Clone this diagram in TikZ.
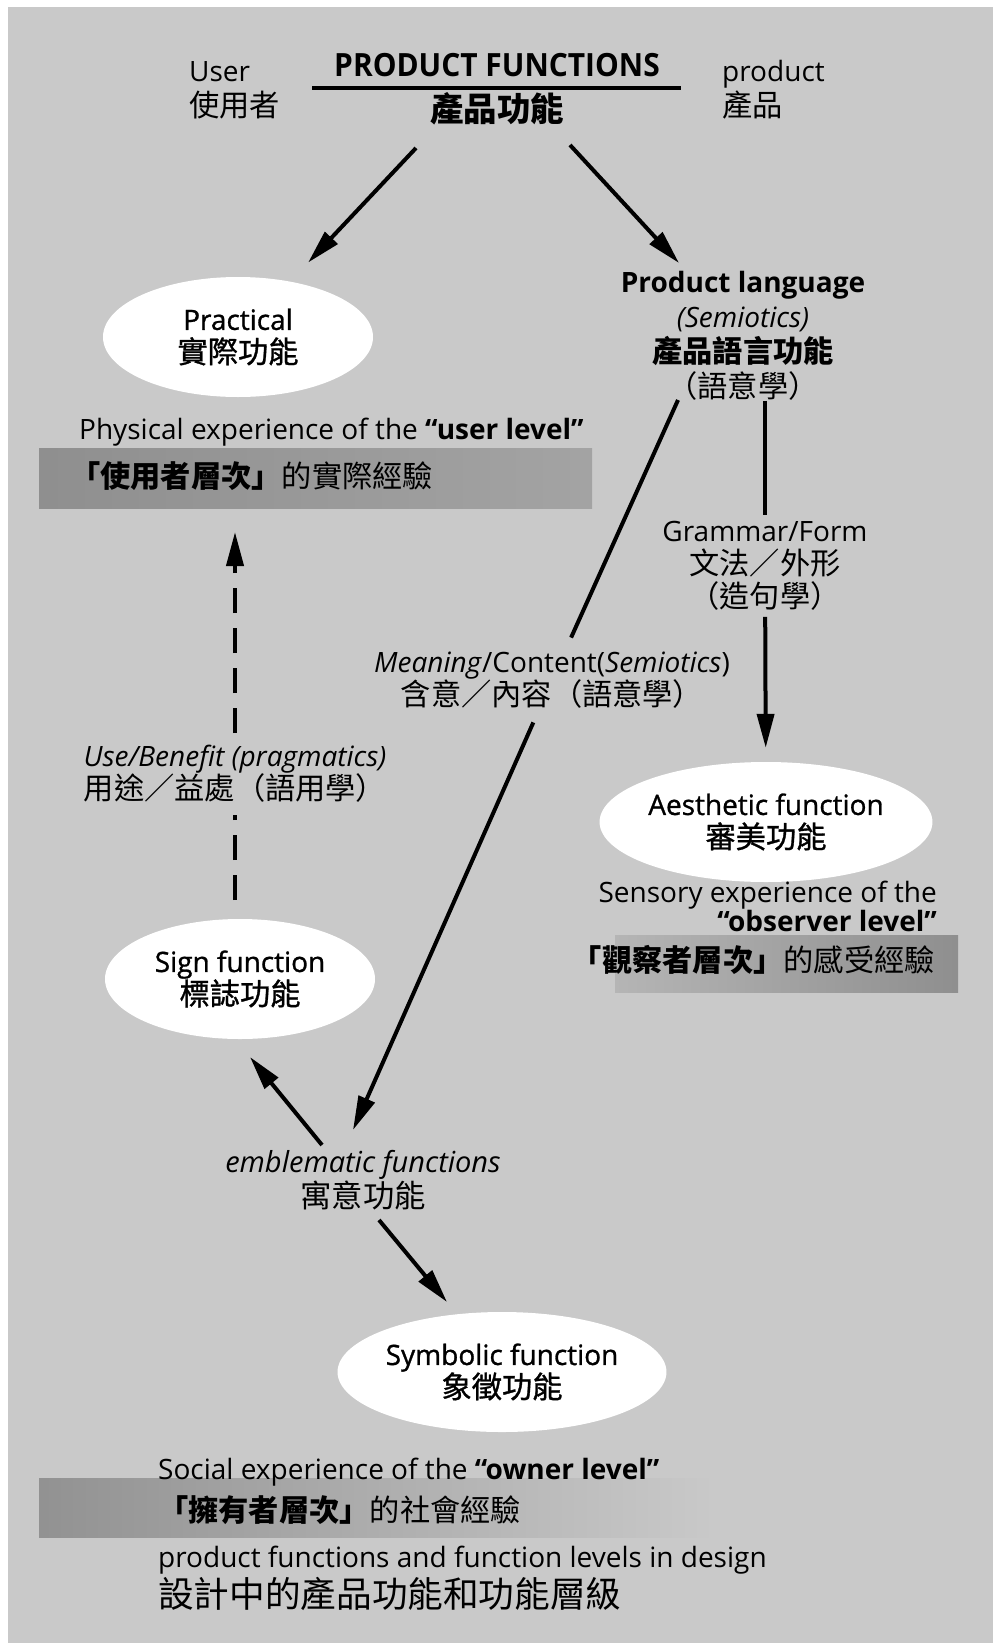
\documentclass[tikz,border=0pt]{standalone}
\usepackage{fontspec}
\setmainfont{Open Sans}
\newfontfamily\cjk{Noto Sans CJK TC}[Scale=1.08]
\newfontfamily\midsans{Open Sans}[FakeBold=1]
\newfontfamily\midcjk{Noto Sans CJK TC}[Scale=1.08,FakeBold=1]
\usetikzlibrary{arrows.meta,shapes.geometric}
\definecolor{paper}{gray}{0.79}
\definecolor{bandgray}{gray}{0.56}

\begin{document}
\begin{tikzpicture}
[x=1pt,y=-1pt,
  every node/.style={inner sep=0pt,text=black},
  txt/.style={font=\fontsize{28}{33}\selectfont},
  oval/.style={ellipse,fill=white,minimum width=270pt,minimum height=120pt,
    align=center,font=\midsans\fontsize{28}{33}\selectfont},
  ln/.style={line width=4pt},
  arr/.style={ln,-{Triangle[length=34pt,width=17pt]}},
  dashes/.style={ln,dash pattern=on 25pt off 15pt}]
\useasboundingbox (0,0) rectangle (993,1643);
\fill[white] (0,0) rectangle (993,1643);
\fill[paper] (8,7) rectangle (993,1643);

% level bands
\shade[left color=bandgray,right color=bandgray!65!paper] (39,448) rectangle (592,508);
\shade[left color=bandgray!35!paper,right color=bandgray] (615,935) rectangle (958,992);
\shade[left color=bandgray!95!paper,right color=paper] (39,1478) rectangle (720,1537);

% title
\node[font=\bfseries\fontsize{32}{32}\selectfont] (pfen) at (497,65)
  {\scalebox{0.935}[1]{PRODUCT FUNCTIONS}};
\draw[ln] (312,88) -- (681,88);
\node[font=\cjk\bfseries\fontsize{31}{31}\selectfont] (pfzh) at (497,109) {產品功能};
\node[txt,anchor=west,align=left,font=\fontsize{28}{35}\selectfont] (user) at (189,90)
  {User\\{\cjk 使用者}};
\node[txt,anchor=west,align=left,font=\fontsize{28}{35}\selectfont] (prod) at (722,90)
  {product\\{\cjk 產品}};

% functions
\node[oval] (practical) at (238,337) {Practical\\{\midcjk 實際功能}};
\node[txt,align=center,font=\fontsize{28}{35}\selectfont] (plang) at (743,336)
  {\textbf{Product language}\\\textit{(Semiotics)}\\{\cjk\bfseries 產品語言功能}\\{\cjk （語意學）}};
\node[txt,align=center,inner sep=6pt] (gram) at (765,566)
  {Grammar/Form\\{\cjk 文法／外形}\\{\cjk （造句學）}};
\node[txt,align=center,inner ysep=14pt] (mean) at (552,680)
  {\textit{Meaning}/Content(\textit{Semiotics})\\{\cjk 含意／內容（語意學）}};
\node[txt,align=center,inner ysep=12pt] (use) at (235,774)
  {\textit{Use/Benefit (pragmatics)}\\{\cjk 用途／益處（語用學）}};
\node[oval] (aesthetic) at (766,822) {Aesthetic function\\{\midcjk 審美功能}};
\node[oval] (sign) at (240,979) {Sign function\\{\midcjk 標誌功能}};
\node[txt,align=center,font=\fontsize{29}{33}\selectfont] (emb) at (363,1180)
  {\textit{emblematic functions}\\{\cjk 寓意功能}};
\node[oval] (symbolic) at (502,1372) {Symbolic function\\{\midcjk 象徵功能}};

% experience levels
\node[txt,anchor=west] (phys) at (79,432)
  {Physical experience of the \textbf{“user level”}};
\node[txt,anchor=west] (userexp) at (70,476)
  {{\cjk\bfseries 「使用者層次」}{\cjk 的實際經驗}};
\node[txt,anchor=east,align=right,font=\fontsize{28}{29}\selectfont] (sensory) at (937,906)
  {Sensory experience of the\\\textbf{“observer level”}};
\node[txt,anchor=east] (obsexp) at (935,960)
  {{\cjk\bfseries 「觀察者層次」}{\cjk 的感受經驗}};
\node[txt,anchor=west] (owner) at (158,1472)
  {Social experience of the \textbf{“owner level”}};
\node[txt,anchor=west] (ownexp) at (158,1510)
  {{\cjk\bfseries 「擁有者層次」}{\cjk 的社會經驗}};
\node[txt,anchor=west] (cap) at (158,1560)
  {product functions and function levels in design};
\node[anchor=west,font=\cjk\fontsize{33}{33}\selectfont] (capzh) at (158,1594)
  {設計中的產品功能和功能層級};

% connectors
\coordinate (pfL) at (416,148);
\coordinate (pfR) at (570,145);
\coordinate (plIn) at (679,263);
\coordinate (mTop) at (678,400);
\coordinate (mTip) at (353,1130);
\coordinate (uTip) at (235,532);
\coordinate (sTop) at (235,900);
\coordinate (eL) at (322,1145);
\coordinate (eLtip) at (250,1057);
\coordinate (eR) at (379,1220);
\coordinate (eRtip) at (447,1302);
\draw[arr,shorten >=26pt] (pfL) -- (practical);
\draw[arr] (pfR) -- (plIn);
\draw[ln] (gram.north |- plang.south) -- (gram);
\draw[arr,shorten >=14pt] (gram) -- (aesthetic);
\draw[ln] (mTop) -- (mean);
\draw[arr] (mean) -- (mTip);
\draw[dashes] (sTop) -- (use);
\draw[arr,dash pattern=on 25pt off 15pt] (use) -- (uTip);
\draw[arr] (eL) -- (eLtip);
\draw[arr] (eR) -- (eRtip);
\end{tikzpicture}
\end{document}
